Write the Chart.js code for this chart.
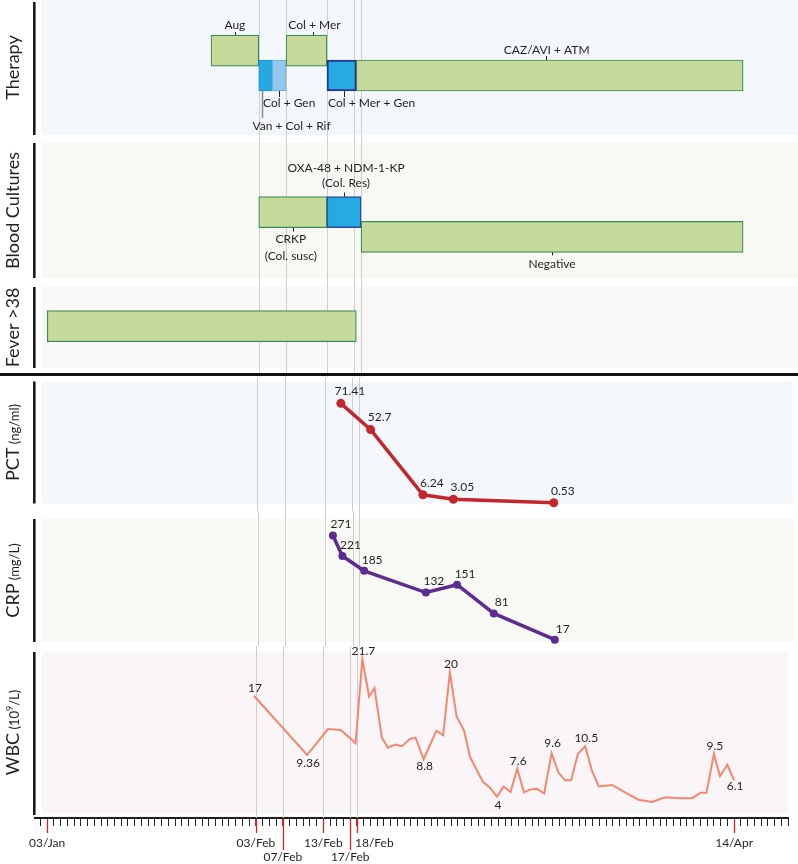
<!DOCTYPE html>
<html>
<head>
<meta charset="utf-8">
<title>Clinical course</title>
<script src="https://cdn.jsdelivr.net/npm/chart.js@4.4.0/dist/chart.umd.min.js"></script>
<style>
  html, body { margin: 0; padding: 0; background: #fff; }
  #wrap { position: relative; width: 798px; height: 864px; overflow: hidden; }
  #wrap canvas { position: absolute; left: 0; }
</style>
</head>
<body>
<div id="wrap">
  <canvas id="therapy"></canvas>
  <canvas id="cultures"></canvas>
  <canvas id="fever"></canvas>
  <canvas id="pct"></canvas>
  <canvas id="crp"></canvas>
  <canvas id="wbc"></canvas>
</div>
<script>
// all x values are days counted from 03/Jan
const dateTickDays = [0, 31, 35, 41, 45, 46, 102];
const dateTickLabels = ['03/Jan', '03/Feb', '07/Feb', '13/Feb', '17/Feb', '18/Feb', '14/Apr'];
const dateTickLow = [false, false, true, false, true, false, false];
const dateTickLeft = [false, false, false, false, false, true, false];
const markerDays = [31, 35, 41, 45, 46];

// therapy boxes (row 1 = upper, row 2 = lower)
const therapyNames = ['Aug', 'Van + Col + Rif', 'Col + Gen', 'Col + Mer', 'Col + Mer + Gen', 'CAZ/AVI + ATM'];
const therapyStart = [24, 31, 33, 35, 41, 45.3];
const therapyEnd = [31, 33, 35, 41, 45.3, 102];
const therapyRow = [1, 2, 2, 1, 2, 2];

// blood cultures
const cultureNames = ['CRKP\n(Col. susc)', 'OXA-48 + NDM-1-KP\n(Col. Res)', 'Negative'];
const cultureStart = [31, 41, 46];
const cultureEnd = [41, 46, 102];
const cultureRow = [1, 1, 2];

// fever > 38
const feverStart = [0];
const feverEnd = [45.3];
const feverRow = [1];

// PCT (ng/ml)
const pctDays = [43.3, 47.7, 55.4, 59.9, 74.7];
const pctValues = [71.41, 52.7, 6.24, 3.05, 0.53];

// CRP (mg/L)
const crpDays = [42.1, 43.5, 46.7, 55.8, 60.4, 65.8, 74.8];
const crpValues = [271, 221, 185, 132, 151, 81, 17];

// WBC (10^9/L)
const wbcDays = [30.7, 38.6, 41.7, 43.6, 45.8, 46.8, 47.8, 48.6, 49.7, 50.6, 51.7, 52.7, 53.8,
  54.7, 55.9, 57.8, 58.8, 59.8, 60.8, 61.9, 62.8, 64.7, 65.8, 66.8, 67.8, 68.8, 69.8, 70.8,
  71.7, 72.7, 73.8, 74.9, 75.9, 76.9, 77.8, 78.8, 79.9, 80.9, 81.9, 83.9, 85.8, 87.8, 89.8,
  91.8, 93.7, 95.8, 97.0, 97.9, 99.0, 99.9, 101.0, 102.0];
const wbcValues = [17, 9.36, 12.7, 12.6, 10.9, 21.7, 16.9, 18.0, 11.6, 10.3, 10.7, 10.5, 11.4,
  11.6, 8.8, 12.5, 11.9, 20, 14.3, 12.5, 9.1, 5.9, 5.1, 4, 5.3, 4.6, 7.6, 4.55,
  4.9, 5.0, 4.4, 9.6, 7.1, 6.1, 6.1, 9.5, 10.5, 7.3, 5.3, 5.5, 4.55, 3.6, 3.3,
  3.9, 3.8, 3.8, 4.5, 4.5, 9.5, 6.65, 8.1, 6.1];
const wbcLabelIdx = [0, 1, 5, 14, 17, 23, 26, 31, 36, 48, 51];

// ---- styles ----
const GREEN = '#c6da9c', GREEN_LINE = '#3a8a58';
const BLUE = '#27aae1', LIGHT_BLUE = '#93c8ee';
const TEXT = '#231f20';
const FONT = 'Lato';

const therapyFill = [GREEN, BLUE, LIGHT_BLUE, GREEN, BLUE, GREEN];
const therapyBorder = [GREEN_LINE, '#1f8fcc', '#6aaee2', GREEN_LINE, '#27378f', GREEN_LINE];
const therapyBorderW = [1.2, 1, 1, 1.2, 2, 1.2];
const cultureFill = [GREEN, BLUE, GREEN];
const cultureBorder = [GREEN_LINE, '#2b4f9e', GREEN_LINE];
const cultureBorderW = [1.2, 1.5, 1.2];

// label placement for the boxes: side, text shift, lead length, lead shift, extra drop
const therapyNotes = [
  { side: 'above', dx: 0, lead: 3 },
  { side: 'below', dx: 26, lead: 27, leadDx: -4, drop: 23, leadColor: '#8a8a8a', leadW: 1.5 },
  { side: 'below', dx: 10, lead: 6 },
  { side: 'above', dx: 8, lead: 3, leadDx: 6 },
  { side: 'below', dx: 30, lead: 6, leadDx: 2 },
  { side: 'above', dx: -3, lead: 4, leadDx: -4 }
];
const cultureNotes = [
  { side: 'below', dx: -2, lead: 4 },
  { side: 'above', dx: 2, lead: 4, drop: 3 },
  { side: 'below', dx: 0, lead: 3 }
];

Chart.defaults.font.family = FONT;

const deco = {};

function drawRotTitle(ctx, parts, cx, cy) {
  ctx.save();
  ctx.translate(cx, cy);
  ctx.rotate(-Math.PI / 2);
  ctx.textBaseline = 'alphabetic';
  ctx.textAlign = 'left';
  ctx.fillStyle = TEXT;
  let total = 0;
  parts.forEach(p => {
    ctx.font = p.size + 'px ' + FONT;
    p.w = ctx.measureText(p.text).width;
    total += p.w;
  });
  let x = -total / 2;
  parts.forEach(p => {
    ctx.font = p.size + 'px ' + FONT;
    ctx.fillText(p.text, x, -(p.raise || 0));
    x += p.w;
  });
  ctx.restore();
}

const panelPlugin = {
  id: 'panelDeco',
  beforeDatasetsDraw(chart) {
    const cfg = deco[chart.canvas.id];
    const { ctx, chartArea: a } = chart;
    const xs = chart.scales.x;
    ctx.save();
    ctx.fillStyle = cfg.bg;
    ctx.fillRect(a.left + 7, a.top, a.right - a.left - 7, a.bottom - a.top - (cfg.bgInset || 0));
    // grey date markers
    ctx.strokeStyle = '#cfcfcf';
    ctx.lineWidth = 1;
    markerDays.forEach(d => {
      const px = Math.round(xs.getPixelForValue(d)) + 0.5;
      ctx.beginPath();
      ctx.moveTo(px, 0);
      ctx.lineTo(px, cfg.lineBottom ? a.bottom : chart.height);
      ctx.stroke();
    });
    // black bar on the left
    ctx.fillStyle = '#1a1a1a';
    const bt = cfg.barTopInset || 0;
    ctx.fillRect(33, a.top + bt, 2.6, a.bottom - a.top - (cfg.barInset || 0) - bt);
    ctx.restore();
    drawRotTitle(ctx, cfg.title, 18.5, (a.top + a.bottom - (cfg.bgInset || 0)) / 2);
  },
  afterDatasetsDraw(chart) {
    const cfg = deco[chart.canvas.id];
    const { ctx } = chart;
    ctx.save();
    ctx.font = '12px ' + FONT;
    ctx.fillStyle = TEXT;
    ctx.textAlign = 'center';
    ctx.textBaseline = 'middle';
    if (cfg.notes) {
      const els = chart.getDatasetMeta(0).data;
      cfg.notes.forEach((n, i) => {
        const el = els[i];
        const cx = (el.x + el.base) / 2;
        const top = el.y - el.height / 2, bottom = el.y + el.height / 2;
        const lines = cfg.names[i].split('\n');
        const lx = Math.round(cx + (n.leadDx || 0)) + 0.5;
        ctx.strokeStyle = n.leadColor || TEXT;
        ctx.lineWidth = n.leadW || 1;
        ctx.beginPath();
        if (n.side === 'above') {
          ctx.moveTo(lx, top); ctx.lineTo(lx, top - n.lead);
        } else {
          ctx.moveTo(lx, bottom); ctx.lineTo(lx, bottom + n.lead);
        }
        ctx.stroke();
        lines.forEach((t, k) => {
          const ty = n.side === 'above'
            ? top - 10 - (n.drop || 0) - (lines.length - 1 - k) * 15
            : bottom + 12 + (n.drop || 0) + k * 16.5;
          ctx.fillText(t, cx + n.dx, ty);
        });
      });
    }
    if (cfg.pointLabels) {
      const els = chart.getDatasetMeta(0).data;
      const pl = cfg.pointLabels;
      pl.idx.forEach((i, k) => {
        const el = els[i];
        const dy = pl.dy ? pl.dy[k] : pl.offY;
        ctx.fillText(String(pl.values[i]), el.x + pl.offX, el.y + dy);
      });
    }
    if (cfg.separatorY != null) {
      ctx.fillStyle = '#111';
      ctx.fillRect(0, cfg.separatorY, chart.width, 3);
    }
    if (cfg.dateTicks) {
      const xs = chart.scales.x;
      const y0 = chart.chartArea.bottom + 1;
      ctx.strokeStyle = '#d2232a';
      ctx.lineWidth = 1.3;
      dateTickDays.forEach((d, i) => {
        const px = Math.round(xs.getPixelForValue(d)) + 0.5;
        ctx.beginPath();
        ctx.moveTo(px, y0);
        ctx.lineTo(px, y0 + (dateTickLow[i] ? 31 : 14));
        ctx.stroke();
      });
    }
    ctx.restore();
  }
};

const rulerDays = [];
for (let d = -1; d <= 110; d++) rulerDays.push(d);

function tickLabel(v) {
  const i = dateTickDays.indexOf(v);
  if (i < 0) return '';
  // a left-aligned label is pushed right with figure spaces
  const t = (dateTickLeft[i] ? '\u2007'.repeat(5) : '') + dateTickLabels[i];
  return dateTickLow[i] ? ['', t] : t;
}

function xAxis(show) {
  const axis = {
    type: 'linear', min: -1.8, max: 110.05, display: show,
    afterBuildTicks: s => { s.ticks = rulerDays.map(v => ({ value: v })); },
    ticks: {
      autoSkip: false, maxRotation: 0, minRotation: 0, padding: 10,
      color: TEXT, font: { family: FONT, size: 12 },
      callback: tickLabel
    },
    grid: {
      drawOnChartArea: false, drawTicks: true, tickLength: 8, lineWidth: 1,
      color: c => (c.tick && dateTickDays.includes(c.tick.value)) ? '#d2232a' : '#231f20'
    },
    border: { display: true, color: '#1a1a1a', width: 2 }
  };
  if (show) axis.afterFit = s => { s.height = 46; };
  return axis;
}

function yAxis(min, max, reverse) {
  return { type: 'linear', display: false, min: min, max: max, reverse: !!reverse };
}

function boxDataset(starts, ends, rows, fills, borders, widths) {
  return {
    data: starts.map((s, i) => ({ x: [s, ends[i]], y: rows[i] })),
    backgroundColor: fills, borderColor: borders, borderWidth: widths,
    borderSkipped: false, barThickness: 31, grouped: false, clip: false
  };
}

function makeChart(id, top, height, pad, type, dataset, y, showX, cfg) {
  const canvas = document.getElementById(id);
  canvas.width = 798;
  canvas.height = height;
  canvas.style.top = top + 'px';
  deco[id] = cfg;
  return new Chart(canvas, {
    type: type,
    data: { datasets: [dataset] },
    options: {
      responsive: false, animation: false, devicePixelRatio: 1, events: [],
      indexAxis: type === 'bar' ? 'y' : 'x',
      layout: { padding: { left: 35, right: 0, top: pad[0], bottom: pad[1] } },
      plugins: { legend: { display: false }, tooltip: { enabled: false } },
      scales: { x: xAxis(showX), y: y }
    },
    plugins: [panelPlugin]
  });
}

makeChart('therapy', 0, 139, [0, 4], 'bar',
  boxDataset(therapyStart, therapyEnd, therapyRow, therapyFill, therapyBorder, therapyBorderW),
  yAxis(-0.5, 3.855, true), false,
  { bg: '#f4f8fa', title: [{ text: 'Therapy', size: 18 }], notes: therapyNotes, names: therapyNames, barTopInset: 2 });

makeChart('cultures', 139, 143, [4, 4], 'bar',
  boxDataset(cultureStart, cultureEnd, cultureRow, cultureFill, cultureBorder, cultureBorderW),
  yAxis(-1.242, 3.113, true), false,
  { bg: '#f8f8f4', title: [{ text: 'Blood Cultures', size: 18 }], notes: cultureNotes, names: cultureNames });

makeChart('fever', 282, 95, [5, 9], 'bar',
  boxDataset(feverStart, feverEnd, feverRow, [GREEN], [GREEN_LINE], [1.2]),
  yAxis(-0.242, 2.371, true), false,
  { bg: '#faf7f7', title: [{ text: 'Fever >38', size: 18 }], separatorY: 91 });

makeChart('pct', 377, 134, [3, 7.5], 'line', {
    data: pctDays.map((d, i) => ({ x: d, y: pctValues[i] })),
    borderColor: '#c1272d', borderWidth: 3.5, backgroundColor: '#c1272d',
    pointRadius: 4.5, pointBorderWidth: 0, tension: 0, clip: false
  },
  yAxis(0, 87), false,
  { bg: '#f4f8fa', title: [{ text: 'PCT', size: 18 }, { text: ' (ng/ml)', size: 13 }],
    pointLabels: { idx: pctValues.map((v, i) => i), values: pctValues, offX: 9, offY: -12 } });

makeChart('crp', 511, 135, [8, 3], 'line', {
    data: crpDays.map((d, i) => ({ x: d, y: crpValues[i] })),
    borderColor: '#5c2d91', borderWidth: 3.5, backgroundColor: '#5c2d91',
    pointRadius: 4, pointBorderWidth: 0, tension: 0, clip: false
  },
  yAxis(11.4, 311.3), false,
  { bg: '#f8f8f4', title: [{ text: 'CRP', size: 18 }, { text: ' (mg/L)', size: 13 }],
    pointLabels: { idx: crpValues.map((v, i) => i), values: crpValues, offX: 8, offY: -11 } });

makeChart('wbc', 646, 218, [6, 0], 'line', {
    data: wbcDays.map((d, i) => ({ x: d, y: wbcValues[i] })),
    borderColor: '#f6866f', borderWidth: 2, pointRadius: 0, tension: 0, clip: false
  },
  yAxis(1.24, 22.64), true,
  { bg: '#faf6f7', bgInset: 5, barInset: 3, lineBottom: true, dateTicks: true,
    title: [{ text: 'WBC', size: 18 }, { text: ' (10', size: 13 }, { text: '9', size: 9, raise: 6 }, { text: '/L)', size: 13 }],
    pointLabels: { idx: wbcLabelIdx, values: wbcValues, offX: 1,
      dy: [-8, 8, -8, 7, -8, 9, -8, -10, -8, -8, 6] } });
</script>
</body>
</html>
